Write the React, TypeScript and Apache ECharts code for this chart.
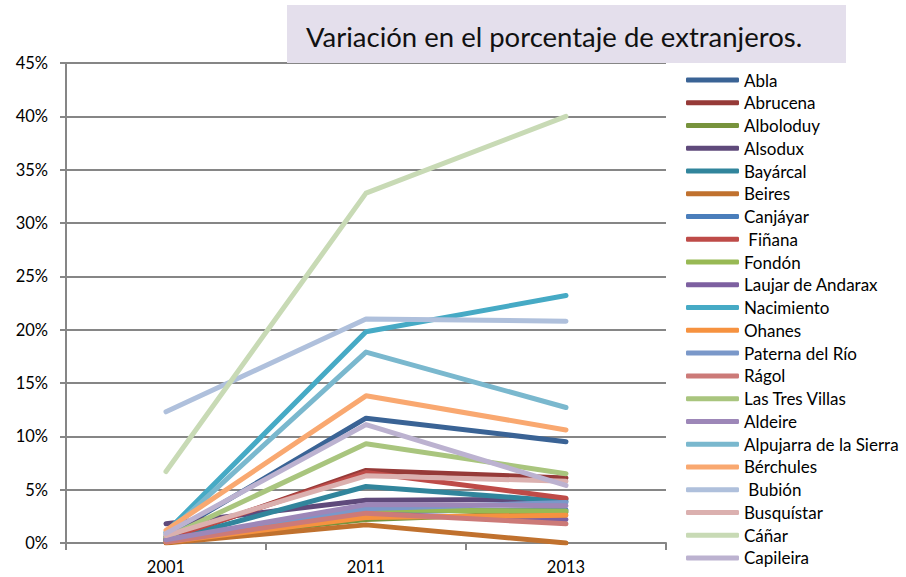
import React, { useEffect, useRef } from "react";
import * as echarts from "echarts";

const years = ["2001", "2011", "2013"];

const names = [
  "Abla", "Abrucena", "Alboloduy", "Alsodux", "Bayárcal", "Beires", "Canjáyar", " Fiñana",
  "Fondón", "Laujar de Andarax", "Nacimiento", "Ohanes", "Paterna del Río", "Rágol",
  "Las Tres Villas", "Aldeire", "Alpujarra de la Sierra", "Bérchules", " Bubión",
  "Busquístar", "Cáñar", "Capileira",
];

// percentages
const val2001 = [0.6, 0.3, 0.2, 1.8, 0.2, 0.0, 0.3, 0.4, 0.3, 0.4, 1.0, 0.1, 0.2, 0.1, 0.5, 0.3, 0.8, 1.2, 12.3, 0.7, 6.7, 0.9];
const val2011 = [11.7, 6.8, 2.2, 4.0, 5.3, 1.7, 3.0, 6.6, 3.1, 2.7, 19.8, 2.4, 3.2, 2.8, 9.3, 3.6, 17.9, 13.8, 21.0, 6.3, 32.8, 11.1];
const val2013 = [9.5, 6.1, 2.9, 4.1, 3.9, 0.0, 3.1, 4.2, 3.0, 2.2, 23.2, 2.6, 3.8, 1.8, 6.5, 3.5, 12.7, 10.6, 20.8, 5.8, 40.0, 5.4];

const yTicks = { min: 0, max: 45, interval: 5 };

const colors = [
  "#3A6395", "#963A38", "#77933C", "#5F4A7B", "#31859C", "#C0712E", "#4A7EBB", "#BE4B48",
  "#98B954", "#7D60A0", "#46AAC5", "#F69240", "#7A98C9", "#CC7A78", "#A9C57E", "#9D87B8",
  "#7AB8CE", "#F9A870", "#AFC0DC", "#DBB0AF", "#C8DAB5", "#BCB2D0",
];

const TITLE = "Variación en el porcentaje de extranjeros.";
const FONT = "Lato, 'Open Sans', sans-serif";

export default function App() {
  const ref = useRef<HTMLDivElement>(null);
  useEffect(() => {
    document.body.style.margin = "0";
    if (!ref.current) return;
    const chart = echarts.init(ref.current, null, { renderer: "svg" });
    const series = names.map((n, i) => ({
      name: n,
      type: "line",
      data: [val2001[i], val2011[i], val2013[i]],
      symbol: "none",
      lineStyle: { width: 5, color: colors[i], cap: "round", join: "round" },
      itemStyle: { color: colors[i] },
      z: 2,
    }));
    chart.setOption({
      animation: false,
      backgroundColor: "#ffffff",
      textStyle: { fontFamily: FONT },
      grid: { left: 66, right: 240, top: 63, bottom: 34 },
      graphic: [
        {
          type: "rect",
          shape: { x: 287, y: 5, width: 559, height: 58 },
          style: { fill: "#E4DFEC" },
          z: 10,
        },
        {
          type: "text",
          x: 306,
          y: 36,
          style: {
            text: TITLE,
            fontFamily: FONT,
            fontSize: 27.5,
            fill: "#111",
            verticalAlign: "middle",
          },
          z: 11,
        },
      ],
      legend: {
        orient: "vertical",
        left: 681,
        top: 66.5,
        itemWidth: 53,
        itemHeight: 5,
        itemGap: 5.76,
        icon: "roundRect",
        textStyle: { fontFamily: FONT, fontSize: 17, color: "#000", lineHeight: 17 },
        data: names,
      },
      xAxis: {
        type: "category",
        data: years,
        boundaryGap: true,
        axisLine: { lineStyle: { color: "#868686", width: 2 } },
        axisTick: { show: true, length: 7, lineStyle: { color: "#868686", width: 2 } },
        axisLabel: { color: "#000", fontSize: 16.5, fontFamily: FONT, margin: 15 },
      },
      yAxis: {
        type: "value",
        min: yTicks.min,
        max: yTicks.max,
        interval: yTicks.interval,
        axisLine: { show: true, lineStyle: { color: "#868686", width: 2 } },
        axisTick: { show: true, length: 6, lineStyle: { color: "#868686", width: 2 } },
        axisLabel: { color: "#000", fontSize: 16.5, fontFamily: FONT, margin: 18, formatter: "{value}%" },
        splitLine: { show: true, lineStyle: { color: "#868686", width: 2 } },
      },
      series,
    });
    return () => chart.dispose();
  }, []);
  return <div ref={ref} style={{ width: 906, height: 577 }} />;
}
